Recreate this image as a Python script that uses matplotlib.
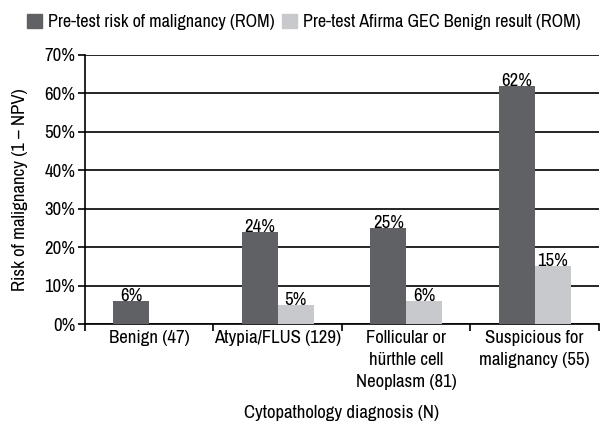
import matplotlib
matplotlib.use("Agg")
import matplotlib.pyplot as plt
from matplotlib import font_manager
import numpy as np
from matplotlib.patches import Patch

available = {f.name for f in font_manager.fontManager.ttflist}
preferred = ['Archivo Narrow', 'PT Sans Narrow', 'Roboto Condensed', 'Liberation Sans Narrow']
chosen = [f for f in preferred if f in available][:1]
plt.rcParams['font.family'] = chosen + ['DejaVu Sans']

categories = ["Benign (47)", "Atypia/FLUS (129)", "Follicular or\nhürthle cell\nNeoplasm (81)", "Suspicious for\nmalignancy (55)"]
rom = [6, 24, 25, 62]
afirma = [None, 5, 6, 15]
series_names = ["Pre-test risk of malignancy (ROM)", "Pre-test Afirma GEC Benign result (ROM)"]
yticks = [0, 10, 20, 30, 40, 50, 60, 70]

dark = "#5f6165"
light = "#c8c9cd"
fs = 13.5

fig = plt.figure(figsize=(6.02, 4.22), dpi=100)
ax = fig.add_axes([0.141, 0.232, 0.854, 0.638])

x = np.arange(len(categories))
w = 0.28
for i in range(len(categories)):
    ax.bar(x[i] - w / 2, rom[i], width=w, color=dark, zorder=3)
    ax.text(x[i] - w / 2, rom[i] - 0.8, f"{rom[i]}%", ha="center", va="bottom", fontsize=fs, zorder=4)
    if afirma[i] is not None:
        ax.bar(x[i] + w / 2, afirma[i], width=w, color=light, zorder=3)
        ax.text(x[i] + w / 2, afirma[i] - 0.8, f"{afirma[i]}%", ha="center", va="bottom", fontsize=fs, zorder=4)

ax.set_xlim(-0.5, len(categories) - 0.5)
ax.set_ylim(0, 70)
ax.set_yticks(yticks)
ax.set_yticklabels([f"{v}%" for v in yticks], fontsize=fs)
ax.yaxis.grid(True, color="black", linewidth=1.2, zorder=0)
ax.set_axisbelow(True)

ax.set_xticks(np.arange(len(categories) + 1) - 0.5)
ax.set_xticklabels([])
trans = ax.get_xaxis_transform()
for i, lab in enumerate(categories):
    ax.text(x[i], -0.022, lab, transform=trans, ha="center", va="top", fontsize=fs,
            linespacing=1.45, multialignment="center")
ax.tick_params(axis="x", which="major", length=5, width=1.2, direction="out")
ax.tick_params(axis="y", length=5, width=1.2, direction="out", pad=2)

for s in ["top", "right"]:
    ax.spines[s].set_visible(False)
for s in ["left", "bottom"]:
    ax.spines[s].set_linewidth(1.2)

ax.set_ylabel("Risk of malignancy (1 \u2013 NPV)", fontsize=fs)
ax.yaxis.set_label_coords(-0.11, 0.5)
ax.text(0.5, -0.33, "Cytopathology diagnosis (N)", transform=ax.transAxes, ha="center", va="center", fontsize=fs)

handles = [Patch(color=dark), Patch(color=light)]
fig.legend(handles, series_names, loc="upper left", bbox_to_anchor=(0.033, 0.985), ncol=2,
           frameon=False, fontsize=13.1, handlelength=0.8, handleheight=0.85,
           handletextpad=0.35, columnspacing=0.4, borderaxespad=0)

fig.savefig("out.png", dpi=100)
